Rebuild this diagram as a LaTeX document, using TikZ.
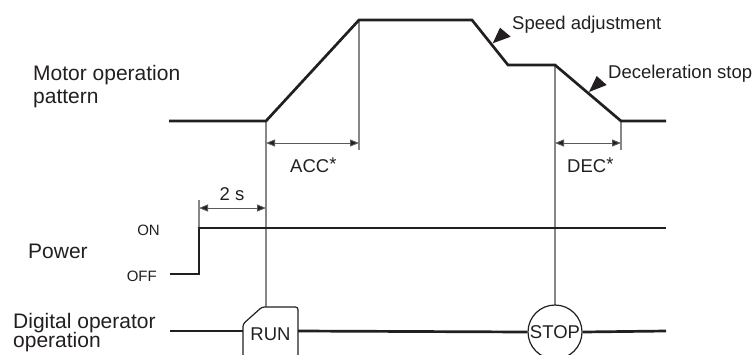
\documentclass[tikz,border=0pt]{standalone}
\usepackage{fontspec}
\setmainfont{Liberation Sans}
\usetikzlibrary{arrows.meta}
\definecolor{sigc}{RGB}{35,31,32}
\definecolor{guidec}{RGB}{135,135,135}
\definecolor{dimc}{RGB}{90,90,90}
\begin{document}
\begin{tikzpicture}[x=1pt,y=-1pt,
  sig/.style={line width=2.7pt, draw=sigc, line join=miter},
  guide/.style={line width=1.3pt, draw=guidec},
  dimline/.style={line width=0.9pt, draw=dimc, {Triangle[length=9pt,width=7pt,fill=sigc]}-{Triangle[length=9pt,width=7pt,fill=sigc]}},
  big/.style={font=\fontsize{21}{24}\selectfont, inner sep=0pt, text=sigc},
  small/.style={font=\fontsize{18.5}{21}\selectfont, inner sep=0pt, text=sigc},
  tiny/.style={font=\fontsize{15}{17}\selectfont, inner sep=0pt, text=sigc},
  pointer/.style={fill=sigc}
]
\useasboundingbox (0,0) rectangle (752,354);

% ---------- labels ----------
\node[big, anchor=base west] (motorA) at (33,80) {Motor operation};
\node[big, anchor=base west] (motorB) at (33,103) {pattern};
\node[big, anchor=base west] (power) at (28,258) {Power};
\node[big, anchor=base west] (digA) at (13,328) {Digital operator};
\node[big, anchor=base west] (digB) at (13,347) {operation};
\node[tiny, anchor=base east] (on) at (160,235) {ON};
\node[tiny, anchor=base east] (off) at (157,281) {OFF};
\node[small, anchor=base west] (speed) at (512,29) {Speed adjustment};
\node[small, anchor=base west] (decel) at (608,78) {Deceleration stop};
\node[small, anchor=base] (twos) at (232,200) {2 s};
\node[small, anchor=base west] (acc) at (290,172) {ACC\raisebox{1.5pt}{*}};
\node[small, anchor=base west] (dec) at (567,172) {DEC\raisebox{1.5pt}{*}};

% ---------- key points ----------
\coordinate (m0) at (169,121);
\coordinate (m1) at (266,121);
\coordinate (m2) at (359,20);
\coordinate (m3) at (472,20);
\coordinate (m4) at (508,65);
\coordinate (m5) at (555,65);
\coordinate (m6) at (621,121);
\coordinate (m7) at (666,121);

\coordinate (p0) at (170,274);
\coordinate (p1) at (199,274);
\coordinate (p2) at (199,228);
\coordinate (p3) at (666,228);

\coordinate (d0) at (170,331);
\coordinate (d1) at (243,331);
\coordinate (d2) at (298,331);
\coordinate (d3) at (666,331);

% ---------- guide lines ----------
\draw[guide] (m1) -- (266,307);
\draw[guide] (m2) -- (359,150);
\draw[guide] (m5) -- (555,305);
\draw[guide] (m6) -- (621,150);
\draw[guide] (199,200) -- (p2);

% ---------- dimensions ----------
\coordinate (acc0) at (266,143);
\coordinate (acc1) at (359,143);
\coordinate (dec0) at (555,143);
\coordinate (dec1) at (621,143);
\coordinate (ts0) at (199,208);
\coordinate (ts1) at (266,208);
\draw[dimline] (acc0) -- (acc1);
\draw[dimline] (dec0) -- (dec1);
\draw[dimline] (ts0) -- (ts1);

% ---------- signals ----------
\draw[sig] (m0) -- (m1) -- (m2) -- (m3) -- (m4) -- (m5) -- (m6) -- (m7);
\draw[sig] (p0) -- (p1) -- (p2) -- (p3);

% ---------- pointers ----------
\coordinate (sa-tip) at (492.7,43.3);
\fill[pointer] (sa-tip) -- (500,27.7) -- (510.7,36.7) -- cycle;
\coordinate (ds-tip) at (589,92);
\fill[pointer] (ds-tip) -- (596.7,76) -- (606.7,85) -- cycle;

% ---------- digital operator ----------
\begin{scope}
\clip (0,0) rectangle (752,354);
\node[circle, draw=sigc, line width=1.2pt, minimum size=54pt, inner sep=0pt] (stop) at (555,332) {};
\node[small, anchor=base] (stoptext) at (555,338.5) {STOP};
\draw[line width=1.2pt, draw=sigc, rounded corners=2.5pt]
  (243,370) -- (243,324) -- (262,307) -- (298,307) -- (298,370);
\node[small, anchor=base] (run) at (270.5,340) {RUN};
\draw[sig] (d0) -- (d1);
\draw[sig] (d2) -- (stop.west);
\draw[sig] (stop.east) -- (d3);
\end{scope}
\end{tikzpicture}
\end{document}
